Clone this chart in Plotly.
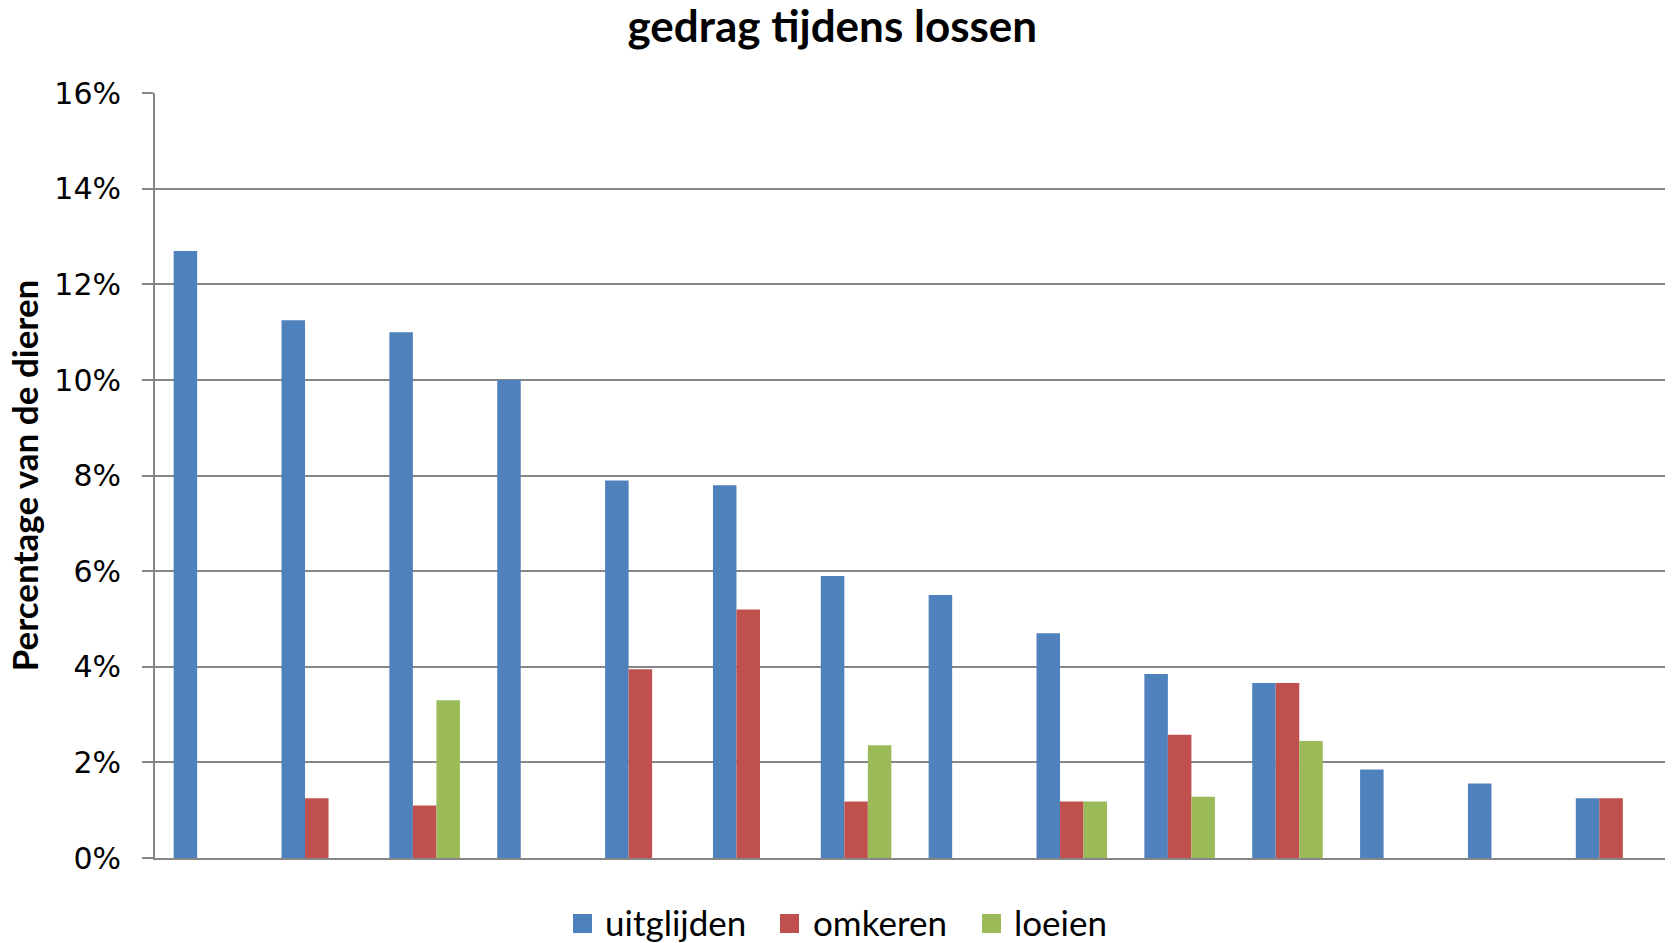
import plotly.graph_objects as go

categories = [f"c{i}" for i in range(1, 15)]
uitglijden = [0.127, 0.1125, 0.110, 0.100, 0.079, 0.078, 0.059, 0.055, 0.047, 0.0385, 0.0366, 0.0185, 0.0156, 0.0125]
omkeren = [None, 0.0125, 0.011, None, 0.0395, 0.052, 0.0118, None, 0.0118, 0.0258, 0.0366, None, None, 0.0125]
loeien = [None, None, 0.033, None, None, None, 0.0236, None, 0.0118, 0.0128, 0.0245, None, None, None]
series_names = ["uitglijden", "omkeren", "loeien"]
colors = ["#4F81BD", "#C0504D", "#9BBB59"]

W, H = 1673, 943
L, R, T, B = 155, 8, 93, 85
PW, PH = W - L - R, H - T - B

def px(xf):
    return (xf - L) / PW

def py(yf):
    return (H - B - yf) / PH

fig = go.Figure()
for name, vals, col in zip(series_names, [uitglijden, omkeren, loeien], colors):
    fig.add_trace(go.Bar(x=categories, y=vals, name=name, marker=dict(color=col, line=dict(width=0))))

# manual legend (squares + labels)
legend_square_x = [573, 780, 982]
legend_text_x = [603, 811, 1012]
for name, col, sx, tx in zip(series_names, colors, legend_square_x, legend_text_x):
    fig.add_shape(type="rect", xref="paper", yref="paper",
                  x0=px(sx), x1=px(sx + 19), y0=py(933), y1=py(914),
                  fillcolor=col, line=dict(width=0))
    fig.add_annotation(text=name, xref="paper", yref="paper", x=px(tx), y=py(922),
                       xanchor="left", yanchor="middle", showarrow=False,
                       font=dict(family="Lato", size=35, color="black"))

fig.update_layout(
    width=W, height=H,
    paper_bgcolor="white", plot_bgcolor="white",
    barmode="group", bargap=0.346, bargroupgap=0,
    margin=dict(l=L, r=R, t=T, b=B, autoexpand=False),
    title=dict(text="<b>gedrag tijdens lossen</b>", x=0.4975, xref="container", xanchor="center",
               y=0.972, yref="container", yanchor="middle", font=dict(family="Lato", size=44, color="black")),
    font=dict(family="Lato", color="black"),
    showlegend=False,
)
fig.update_xaxes(showticklabels=False, showline=True, linecolor="#868686", linewidth=2,
                 ticks="", showgrid=False)
fig.update_yaxes(range=[0, 0.16005], tickvals=[0, 0.02, 0.04, 0.06, 0.08, 0.10, 0.12, 0.14, 0.16],
                 tickformat=".0%",
                 tickfont=dict(family="DejaVu Sans", size=30, color="black"),
                 showline=True, linecolor="#868686", linewidth=2,
                 showgrid=True, gridcolor="#868686", gridwidth=2,
                 ticks="outside", ticklen=11, tickcolor="#868686", tickwidth=2,
                 ticklabelstandoff=15, zeroline=False,
                 title=dict(text="<b>Percentage van de dieren</b>", standoff=5,
                            font=dict(family="Lato", size=35, color="black")))

fig.write_html("out.html", config={"displayModeBar": False},
               post_script="document.body.style.margin='0';document.body.style.overflow='hidden';")
